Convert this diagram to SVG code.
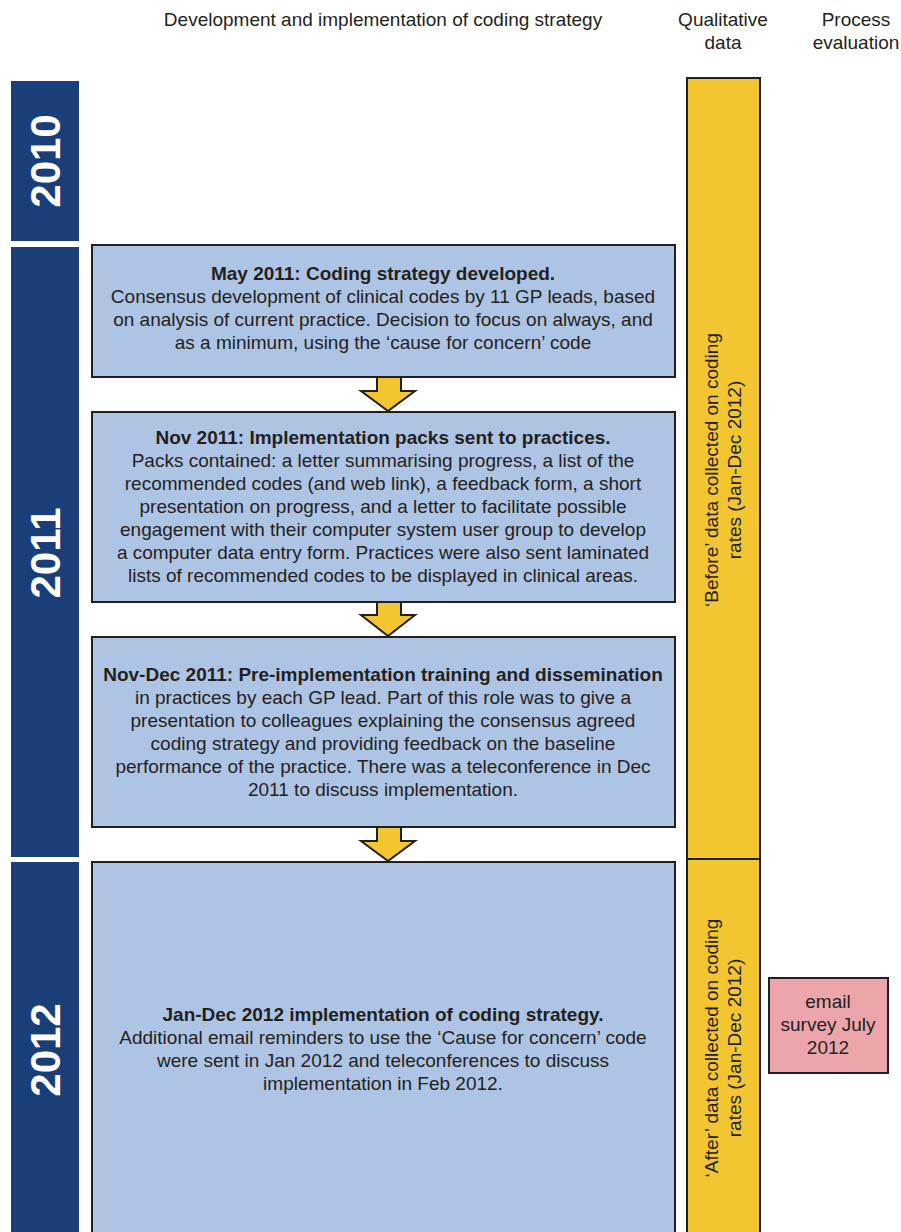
<svg xmlns="http://www.w3.org/2000/svg" width="901" height="1232" viewBox="0 0 901 1232">
<style>
text{font-family:"Liberation Sans",Arial,sans-serif;fill:#231f20;}
.hdr{font-size:19px;text-anchor:middle;}
.bx{font-size:19px;text-anchor:middle;}
.b{font-weight:bold;}
.yr{font-size:42px;font-weight:bold;fill:#ffffff;text-anchor:middle;}
.blue{fill:#aec4e4;stroke:#231f20;stroke-width:2;}
.yel{fill:#f3c631;stroke:#231f20;stroke-width:2;}
.pink{fill:#eca6ab;stroke:#231f20;stroke-width:2;}
.navy{fill:#1a3e78;}
.arr{fill:#f3c631;stroke:#231f20;stroke-width:2;stroke-linejoin:miter;}
</style>
<rect width="901" height="1232" fill="#ffffff"/>
<g id="headers">
<text class="hdr" x="383" y="26">Development and implementation of coding strategy</text>
<text class="hdr" x="723" y="26">Qualitative</text>
<text class="hdr" x="723" y="49">data</text>
<text class="hdr" x="856" y="26">Process</text>
<text class="hdr" x="856" y="49">evaluation</text>
</g>
<g id="year2010">
<rect class="navy" x="11" y="81" width="68" height="160"/>
<text class="yr" transform="translate(60,161) rotate(-90)">2010</text>
</g>
<g id="year2011">
<rect class="navy" x="11" y="247" width="68" height="610"/>
<text class="yr" transform="translate(60,553) rotate(-90)">2011</text>
</g>
<g id="year2012">
<rect class="navy" x="11" y="862" width="68" height="380"/>
<text class="yr" transform="translate(60,1050) rotate(-90)">2012</text>
</g>
<g id="qual-before">
<rect class="yel" x="687" y="78" width="73" height="781"/>
<text class="bx" transform="translate(723,470) rotate(-90)"><tspan x="0" y="-5">‘Before’ data collected on coding</tspan><tspan x="0" y="18">rates (Jan-Dec 2012)</tspan></text>
</g>
<g id="qual-after">
<rect class="yel" x="687" y="859" width="73" height="383"/>
<text class="bx" transform="translate(723,1048) rotate(-90)"><tspan x="0" y="-5">‘After’ data collected on coding</tspan><tspan x="0" y="18">rates (Jan-Dec 2012)</tspan></text>
</g>
<g id="email-survey">
<rect class="pink" x="769" y="978" width="119" height="95"/>
<text class="bx" x="828" y="1008">email</text>
<text class="bx" x="828" y="1031">survey July</text>
<text class="bx" x="828" y="1054">2012</text>
</g>
<g id="box-may2011">
<rect class="blue" x="92" y="245" width="583" height="132"/>
<text class="bx" x="383" y="280"><tspan class="b">May 2011: Coding strategy developed.</tspan></text>
<text class="bx" x="383" y="303">Consensus development of clinical codes by 11 GP leads, based</text>
<text class="bx" x="383" y="326">on analysis of current practice. Decision to focus on always, and</text>
<text class="bx" x="383" y="349">as a minimum, using the ‘cause for concern’ code</text>
</g>
<g id="box-nov2011">
<rect class="blue" x="92" y="412" width="583" height="190"/>
<text class="bx" x="383" y="444"><tspan class="b">Nov 2011: Implementation packs sent to practices.</tspan></text>
<text class="bx" x="383" y="467">Packs contained: a letter summarising progress, a list of the</text>
<text class="bx" x="383" y="490">recommended codes (and web link), a feedback form, a short</text>
<text class="bx" x="383" y="513">presentation on progress, and a letter to facilitate possible</text>
<text class="bx" x="383" y="536">engagement with their computer system user group to develop</text>
<text class="bx" x="383" y="559">a computer data entry form. Practices were also sent laminated</text>
<text class="bx" x="383" y="582">lists of recommended codes to be displayed in clinical areas.</text>
</g>
<g id="box-novdec2011">
<rect class="blue" x="92" y="637" width="583" height="190"/>
<text class="bx" x="383" y="681"><tspan class="b">Nov-Dec 2011: Pre-implementation training and dissemination</tspan></text>
<text class="bx" x="383" y="704">in practices by each GP lead. Part of this role was to give a</text>
<text class="bx" x="383" y="727">presentation to colleagues explaining the consensus agreed</text>
<text class="bx" x="383" y="750">coding strategy and providing feedback on the baseline</text>
<text class="bx" x="383" y="773">performance of the practice. There was a teleconference in Dec</text>
<text class="bx" x="383" y="796">2011 to discuss implementation.</text>
</g>
<g id="box-2012">
<rect class="blue" x="92" y="862" width="583" height="380"/>
<text class="bx" x="383" y="1021"><tspan class="b">Jan-Dec 2012 implementation of coding strategy.</tspan></text>
<text class="bx" x="383" y="1044">Additional email reminders to use the ‘Cause for concern’ code</text>
<text class="bx" x="383" y="1067">were sent in Jan 2012 and teleconferences to discuss</text>
<text class="bx" x="383" y="1090">implementation in Feb 2012.</text>
</g>
<g id="connectors">
<path class="arr" d="M377,377 L401,377 L401,391 L415,391 L388,411 L361,391 L377,391 Z"/>
<path class="arr" d="M377,602 L401,602 L401,615 L415,615 L388,636 L361,615 L377,615 Z"/>
<path class="arr" d="M377,827 L401,827 L401,841 L415,841 L388,861 L361,841 L377,841 Z"/>
</g>
</svg>
